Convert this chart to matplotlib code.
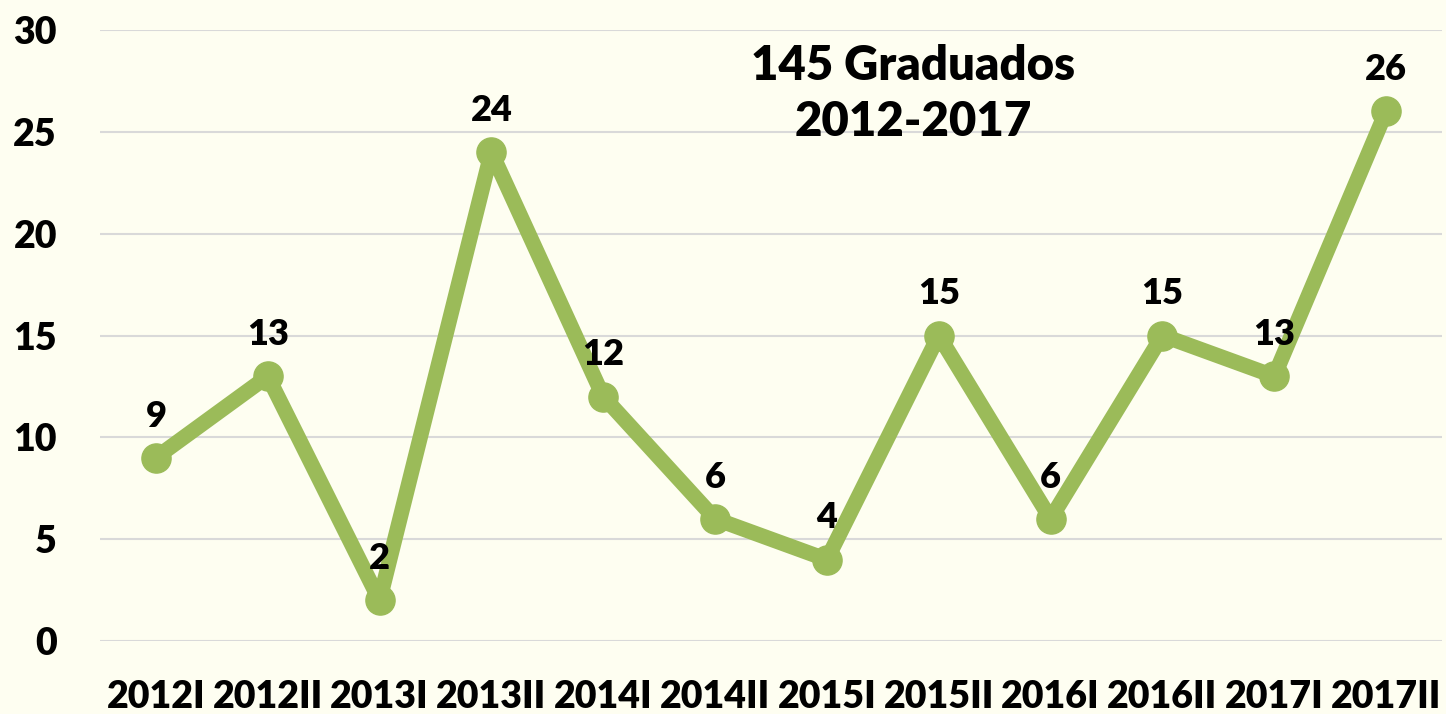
import matplotlib
matplotlib.use("Agg")
import matplotlib.pyplot as plt

categories = ["2012I", "2012II", "2013I", "2013II", "2014I", "2014II",
              "2015I", "2015II", "2016I", "2016II", "2017I", "2017II"]
graduados = [9, 13, 2, 24, 12, 6, 4, 15, 6, 15, 13, 26]
title_text = "145 Graduados\n2012-2017"
yticks = [0, 5, 10, 15, 20, 25, 30]

BG = "#FEFEF1"
GREEN = "#9BBB59"
FONT = ["Lato", "DejaVu Sans"]
WEIGHT = "heavy"

fig = plt.figure(figsize=(14.46, 7.14), dpi=100, facecolor=BG)
ax = fig.add_axes([100/1446, 1-641/714, 1342/1446, (641-30)/714])
ax.set_facecolor(BG)

x = list(range(len(categories)))
ax.plot(x, graduados, color=GREEN, linewidth=11, marker="o", markersize=21,
        solid_capstyle="round", solid_joinstyle="round", zorder=3)

for xi, v in zip(x, graduados):
    ax.annotate(str(v), (xi, v), xytext=(0, 30), textcoords="offset points",
                ha="center", va="center", fontsize=26, fontweight=WEIGHT,
                family=FONT, color="black", zorder=4)

ax.set_xlim(-0.5, len(categories) - 0.5)
ax.set_ylim(0, 30)
ax.set_yticks(yticks)
ax.set_xticks(x)
ax.set_xticklabels(categories)
ax.grid(axis="y", color="#D9D9D9", linewidth=1.5, zorder=0)
ax.set_axisbelow(True)
for s in ax.spines.values():
    s.set_visible(False)
ax.tick_params(axis="both", length=0, labelsize=27)
ax.tick_params(axis="y", pad=31)
ax.tick_params(axis="x", pad=28)
for lbl in ax.get_xticklabels() + ax.get_yticklabels():
    lbl.set_fontweight(WEIGHT)
    lbl.set_family(FONT)

fig.text(913/1446, 1-94/714, title_text, ha="center", va="center",
         fontsize=34, fontweight=WEIGHT, family=FONT, linespacing=1.35)

fig.savefig("out.png", dpi=100, facecolor=BG)
